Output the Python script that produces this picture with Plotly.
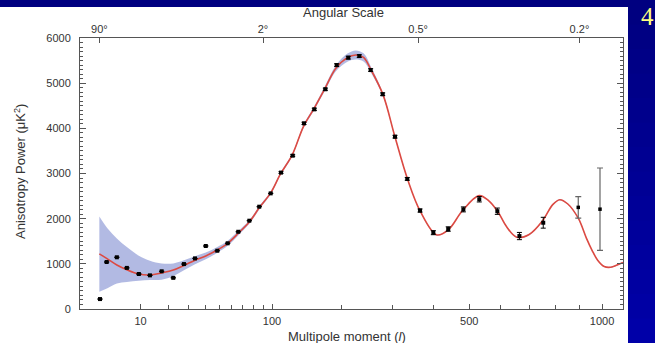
import plotly.graph_objects as go

# ---------------- data ----------------
theory_l = [2, 3, 4.5, 6.5, 9.5, 12.9, 17.2, 22.2, 27.5, 33.7, 40.5, 48.6, 56.7, 65.7,
            76, 86, 98.5, 110, 125, 140, 155, 172, 190, 210, 225, 240, 255, 280, 305,
            335, 365, 408, 440, 480, 530, 560, 590, 620, 655, 700, 750, 790, 818, 850,
            895, 930, 955, 980, 1010, 1040, 1070, 1098]
theory_D = [1220, 1110, 975, 870, 775, 753, 800, 863, 965, 1080, 1175, 1306, 1455, 1676,
            1925, 2240, 2570, 2990, 3420, 4040, 4430, 4880, 5330, 5565, 5625, 5570, 5290,
            4730, 3830, 2860, 2170, 1640, 1760, 2180, 2510, 2400, 2160, 1820, 1590, 1650,
            1950, 2310, 2420, 2330, 2010, 1570, 1300, 1080, 940, 925, 975, 1030]
band_hi = [2050, 1790, 1560, 1370, 1180, 1070, 1010, 1010, 1080, 1170, 1250, 1370, 1510,
           1725, 1965, 2275, 2600, 3020, 3450, 4075, 4470, 4930, 5395, 5655, 5725, 5660,
           5355, 4765, 3850, 2875, 2182, 1650, 1770, 2190, 2520, 2410, 2170, 1830, 1600,
           1660, 1960, 2320, 2430, 2340, 2020, 1580, 1310, 1090, 950, 935, 985, 1040]
band_lo = [380, 460, 565, 600, 625, 640, 650, 730, 860, 990, 1100, 1245, 1400, 1630, 1885,
           2205, 2540, 2960, 3390, 4005, 4390, 4830, 5265, 5475, 5525, 5480, 5225, 4695,
           3810, 2845, 2158, 1630, 1750, 2170, 2500, 2390, 2150, 1810, 1580, 1640, 1940,
           2300, 2410, 2320, 2000, 1560, 1290, 1070, 930, 915, 965, 1020]

data_l = [2.07, 2.9, 4.5, 6.5, 9.5, 12.9, 17.2, 22.2, 27.5, 33.7, 40.5, 48.6, 56.7, 65.7,
          76, 86, 98.5, 110.6, 125.4, 140.8, 155.7, 172.7, 191.3, 211.5, 231.8, 254,
          278.8, 305.6, 333.8, 364.8, 398.8, 439, 482.4, 530.6, 588.7, 664.7, 753]
data_D = [220, 1040, 1145, 910, 775, 745, 835, 690, 995, 1120, 1395, 1290, 1455, 1710,
          1955, 2265, 2560, 3020, 3395, 4110, 4420, 4865, 5400, 5565, 5600, 5290, 4755,
          3815, 2880, 2180, 1690, 1770, 2205, 2430, 2165, 1615, 1910]
data_err = [0, 0, 0, 0, 0, 0, 0, 0, 0, 0, 0, 0, 0, 0, 0, 0, 0, 20, 20, 25, 25, 25, 30,
            30, 30, 30, 30, 30, 30, 35, 45, 50, 55, 60, 70, 80, 120]

hi_l = [895, 990.6]
hi_D = [2250, 2210]
hi_err = [236, 912]

x_major = [10, 100, 500, 1000]
x_major_text = ["10", "100", "500", "1000"]
x_minor = [20, 30, 40, 50, 60, 70, 80, 90, 200, 300, 400, 600, 700, 800, 900]
ang_l = [2, 90, 360, 900]
ang_text = ["90°", "2°", "0.5°", "0.2°"]
y_major = [0, 1000, 2000, 3000, 4000, 5000, 6000]

# axis scale of the original: position grows as l^0.4
P = 0.4


def ax(vals):
    return [v ** P for v in vals]


XR = [0.76, 16.454]
FONT = "Liberation Sans, Arial, sans-serif"
AX = "#555555"
TXT = "#333333"

fig = go.Figure()

fig.add_trace(go.Scatter(x=ax(theory_l), y=band_lo, mode="lines",
                         line=dict(width=0, shape="spline"), hoverinfo="skip",
                         showlegend=False))
fig.add_trace(go.Scatter(x=ax(theory_l), y=band_hi, mode="lines",
                         line=dict(width=0, shape="spline"), fill="tonexty",
                         fillcolor="rgba(170,178,224,0.9)", hoverinfo="skip",
                         showlegend=False))
fig.add_trace(go.Scatter(x=ax(theory_l), y=theory_D, mode="lines",
                         line=dict(color="#dc4a42", width=1.6, shape="spline"),
                         showlegend=False))
fig.add_trace(go.Scatter(x=ax(data_l), y=data_D, mode="markers",
                         marker=dict(symbol="square", size=4, color="black"),
                         error_y=dict(type="data", array=data_err, color="black",
                                      thickness=1, width=2.5),
                         showlegend=False))
fig.add_trace(go.Scatter(x=ax(hi_l), y=hi_D, mode="markers",
                         marker=dict(symbol="square", size=3.5, color="black"),
                         error_y=dict(type="data", array=hi_err, color="#666666",
                                      thickness=1.2, width=3),
                         showlegend=False))
# invisible trace to activate the top (angular scale) axis
fig.add_trace(go.Scatter(x=XR, y=[-500, -500], xaxis="x2", mode="markers",
                         marker=dict(opacity=0), hoverinfo="skip", showlegend=False))

fig.update_layout(
    width=655, height=343,
    margin=dict(l=80, r=32, t=38, b=34),
    paper_bgcolor="white", plot_bgcolor="white",
    font=dict(family=FONT, color=TXT),
    xaxis=dict(range=XR, tickmode="array", tickvals=ax(x_major), ticktext=x_major_text,
               ticks="inside", ticklen=5, tickcolor=AX, tickwidth=1,
               showline=True, linecolor=AX, linewidth=1, mirror=False,
               showgrid=False, zeroline=False, ticklabelstandoff=2,
               minor=dict(tickmode="array", tickvals=ax(x_minor), ticks="inside",
                          ticklen=4, tickcolor=AX, showgrid=False),
               tickfont=dict(size=11, color=TXT, family=FONT)),
    xaxis2=dict(range=XR, overlaying="x", side="top", tickmode="array",
                tickvals=ax(ang_l), ticktext=ang_text, ticks="inside", ticklen=5,
                tickcolor=AX, showline=True, linecolor=AX, linewidth=1,
                showgrid=False, zeroline=False,
                tickfont=dict(size=11, color=TXT, family=FONT)),
    yaxis=dict(range=[0, 6000], tickmode="array", tickvals=y_major,
               ticks="inside", ticklen=6, tickcolor=AX, showline=True, linecolor=AX,
               linewidth=1, mirror="ticks", showgrid=False, zeroline=False,
               minor=dict(dtick=100, tick0=0, ticks="inside", ticklen=3,
                          tickcolor=AX, showgrid=False),
               ticklabelstandoff=6,
               tickfont=dict(size=11, color=TXT, family=FONT)),
)

# pixel -> paper helpers (plot area spans x 80..623, y 38..309)
W, H = 543.0, 271.0


def px_x(p):
    return (p - 80) / W


def px_y(p):
    return (309 - p) / H


# axis titles
fig.add_annotation(text="Angular Scale", xref="paper", yref="paper",
                   x=px_x(343), y=px_y(13), xanchor="center", yanchor="middle",
                   showarrow=False, font=dict(size=13, color=TXT, family=FONT))
fig.add_annotation(text="Multipole moment (<i>l</i>)", xref="paper", yref="paper",
                   x=px_x(347), y=px_y(336), xanchor="center", yanchor="middle",
                   showarrow=False, font=dict(size=13, color=TXT, family=FONT))
fig.add_annotation(text="Anisotropy Power (μK<sup>2</sup>)", xref="paper", yref="paper",
                   x=px_x(20), y=px_y(172), xanchor="center", yanchor="middle",
                   textangle=-90, showarrow=False,
                   font=dict(size=13, color=TXT, family=FONT))

# slide background (navy) around the figure
n = 14
for i in range(n):
    y0p = 343 * i / n
    y1p = 343 * (i + 1) / n + 1
    b = int(128 + 40 * i / (n - 1))
    fig.add_shape(type="rect", xref="paper", yref="paper",
                  x0=px_x(628), x1=px_x(660), y0=px_y(y1p), y1=px_y(y0p),
                  fillcolor=f"rgb(0,0,{b})", line=dict(width=0), layer="above")
fig.add_shape(type="rect", xref="paper", yref="paper",
              x0=px_x(-5), x1=px_x(660), y0=px_y(7), y1=px_y(-5),
              fillcolor="rgb(0,0,128)", line=dict(width=0), layer="above")

fig.add_annotation(text="4", xref="paper", yref="paper", x=px_x(655), y=px_y(17),
                   xanchor="right", yanchor="middle", showarrow=False, borderpad=0,
                   font=dict(size=25, color="#ffff80", family="Liberation Serif"))

fig.write_html("out.html")
